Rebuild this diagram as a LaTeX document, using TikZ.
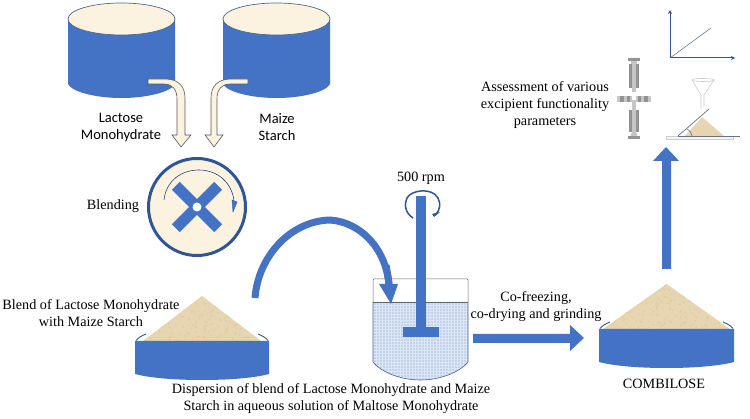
\documentclass[tikz,border=0pt]{standalone}
\usepackage{fontspec}
\setmainfont{Liberation Serif}
\newfontfamily\calibrish{Carlito}
\usetikzlibrary{arrows.meta}
\definecolor{bluefill}{HTML}{4472C4}
\definecolor{darkblue}{HTML}{2F5597}
\definecolor{cream}{HTML}{FBF3E0}
\definecolor{pile}{HTML}{E6D5B0}
\definecolor{piledot}{HTML}{DDCAA2}
\definecolor{water}{HTML}{DCE6F5}
\definecolor{waterdot}{HTML}{C3D3EC}
\tikzset{
  serif/.style={font=\fontsize{14.2}{17}\selectfont, align=center, inner sep=0pt, text=black},
  sans/.style={font=\calibrish\fontsize{14.5}{17}\selectfont, align=center, inner sep=0pt, text=black},
  blue/.style={fill=bluefill, draw=none},
  bentarrow/.style={fill=cream, draw=gray!70!black, line width=0.6pt, line join=miter},
  grey1/.style={fill=gray!85},
  grey2/.style={fill=gray!45},
}
\newcommand{\tub}[1]{%
  \begin{scope}[shift={(#1,0)}]
    \path[blue] (0,19) -- (0,84) .. controls (4,92) and (28,98) .. (53.5,98)
      .. controls (79,98) and (103,92) .. (107,84) -- (107,19) -- cycle;
    \draw[fill=cream, draw=darkblue!60!gray, line width=0.7pt] (53.5,19) ellipse [x radius=53.5, y radius=16];
  \end{scope}}
\newcommand{\heap}[7]{% xl xr ybody ybodyside ybottom apexy inset
  \draw[darkblue, line width=0.9pt] (#1+1,#3-0.5) .. controls (#1+3,#3-3) and (#1+6,#3-5) .. (#1+11,#3-7);
  \draw[darkblue, line width=0.9pt] (#2-1,#3-0.5) .. controls (#2-3,#3-3) and (#2-6,#3-5) .. (#2-11,#3-7);
  \fill[pile] (#1+#7,#3) -- ({(#1+#2)/2},#6) -- (#2-#7,#3) -- cycle;
  \begin{scope}
    \clip (#1+#7,#3) -- ({(#1+#2)/2},#6) -- (#2-#7,#3) -- cycle;
    \pgfmathsetseed{#1}
    \foreach \i in {1,...,260}{
      \pgfmathsetmacro{\px}{#1+rnd*(#2-#1)}
      \pgfmathsetmacro{\py}{#6+rnd*(#3-#6)}
      \fill[piledot] (\px,\py) circle [radius=0.8];
    }
  \end{scope}
  \path[blue] (#1,#3) -- (#1,#4) .. controls (#1+15,#5-2) and (#1+40,#5) .. ({(#1+#2)/2},#5)
     .. controls (#2-40,#5) and (#2-15,#5-2) .. (#2,#4) -- (#2,#3) -- cycle;
}
\begin{document}
\begin{tikzpicture}[x=1pt,y=-1pt]
\useasboundingbox (0,0) rectangle (750,419);
\fill[white] (0,0) rectangle (750,419);

% source tubs
\tub{68}
\tub{223}

% bent arrows
\path[bentarrow] (148,79) -- (165,79) .. controls (178,79) and (185,86) .. (185,98) -- (185,135)
  -- (191,135) -- (181,147) -- (172,135) -- (177,135) -- (177,99)
  .. controls (177,89) and (172,84) .. (164,84) -- (148,84) -- cycle;
\path[bentarrow] (248,79) -- (231,79) .. controls (218,79) and (211,86) .. (211,98) -- (211,135)
  -- (205,135) -- (214,147) -- (223,135) -- (217,135) -- (217,99)
  .. controls (217,89) and (222,84) .. (230,84) -- (248,84) -- cycle;

% blender
\draw[fill=cream, draw=darkblue, line width=3pt] (197,207) circle [radius=48.5];
\begin{scope}[shift={(197,207)}]
  \fill[bluefill, rotate=45] (-30,-5.5) rectangle (30,5.5);
  \fill[bluefill, rotate=-45] (-30,-5.5) rectangle (30,5.5);
  \fill[white] (0,0) circle [radius=4.5];
\end{scope}
\draw[darkblue!80!black, line width=0.6pt] (164,200) .. controls (166,181) and (181,170) .. (199,170)
  .. controls (218,170) and (232,183) .. (234,201);
\path[fill=bluefill, draw=darkblue, line width=0.4pt] (232,200) -- (237,202) -- (233,212) -- cycle;

% heaps
\heap{135}{269}{341}{374}{380}{296}{8}
\heap{599}{734}{329}{362}{368}{284}{4}

% big curved arrow
\draw[bluefill, line width=7pt] (255,298) .. controls (258,257) and (290,221) .. (330,220)
  .. controls (360,222) and (386,248) .. (389,285);

% beaker
\path[fill=water] (373,302) -- (373,362) .. controls (382,373) and (402,380) .. (420.5,380)
  .. controls (439,380) and (459,373) .. (468,362) -- (468,302) -- cycle;
\begin{scope}
  \clip (373,302) -- (373,362) .. controls (382,373) and (402,380) .. (420.5,380)
  .. controls (439,380) and (459,373) .. (468,362) -- (468,302) -- cycle;
  \foreach \a in {0,...,31}{
    \foreach \b in {0,...,26}{
      \fill[waterdot] (374+3*\a,303.5+3*\b) rectangle ++(1.5,1.5);
    }
  }
\end{scope}
\draw[gray!80!black, line width=0.5pt, rounded corners=1pt] (373,302) -- (373,279) -- (468,279) -- (468,302);
\draw[gray!80!black, line width=0.5pt] (373,302) -- (468,302);
\draw[darkblue!70!gray, line width=0.6pt] (373,302) -- (373,362) .. controls (382,373) and (402,380) .. (420.5,380)
  .. controls (439,380) and (459,373) .. (468,362) -- (468,302);

% redraw arrow end over beaker
\draw[bluefill, line width=7pt] (386,265) .. controls (387,272) and (388.6,278) .. (389,285);
\path[blue] (379,284) -- (398,284) -- (391,304) -- cycle;

% stirrer
\path[blue] (416,196) rectangle (426,327);
\path[blue] (403,327) rectangle (439,337);
\draw[darkblue, line width=1.5pt] (413,218) .. controls (405,213) and (404,204) .. (407,198)
  .. controls (411,190) and (432,187) .. (438,198) .. controls (441,204) and (440,210) .. (436,214);
\path[fill=darkblue] (432,214) -- (440,212) -- (434,217) -- cycle;

% right arrow
\path[blue] (473,334) -- (570,334) -- (570,325) -- (584,338) -- (570,351) -- (570,343) -- (473,343) -- cycle;

% up arrow
\path[blue] (662,269) -- (662,161) -- (653,161) -- (666,147) -- (679,161) -- (671,161) -- (671,269) -- cycle;

% graph
\coordinate (orig) at (670,58);
\coordinate (ytop) at (670,10);
\coordinate (xend) at (735,58);
\coordinate (lineend) at (711,28);
\draw[darkblue, line width=1pt, -{Stealth[length=4pt,width=4pt]}] (orig) -- (ytop);
\draw[darkblue, line width=1pt, -{Stealth[length=4pt,width=4pt]}] (orig) -- (xend);
\draw[darkblue!55!gray, line width=0.5pt] (orig) -- (lineend);

% punch press
\fill[grey1] (628,58) rectangle (640,61);
\fill[grey2] (631,61) rectangle (637,64);
\fill[grey1] (629,64) rectangle (639,88);
\fill[grey2] (632,64) rectangle (636,92);
\fill[grey2] (617,96) rectangle (651,102);
\fill[grey1] (620,96) rectangle (624,102);
\fill[grey1] (627,96) rectangle (630,102);
\fill[grey1] (638,96) rectangle (641,102);
\fill[grey1] (644,96) rectangle (648,102);
\fill[white] (632,96) rectangle (636,102);
\fill[grey2] (632,100) rectangle (636,136);
\fill[grey1] (629,110) rectangle (639,132);
\fill[grey2] (632,110) rectangle (636,134);
\fill[grey1] (628,136) rectangle (640,139);
\fill[grey2] (631,133) rectangle (637,136);

% funnel and angle of repose
\draw[gray!40, line width=0.6pt] (692,80) .. controls (692,82) and (714,82) .. (714,80)
  .. controls (714,78) and (692,78) .. (692,80);
\draw[gray!40, line width=0.6pt] (692,80) -- (701,95) -- (701,109);
\draw[gray!40, line width=0.6pt] (714,80) -- (704,95) -- (704,107);
\fill[pile] (685,136) -- (702,117) -- (724,136) -- cycle;
\draw[gray!40, fill=gray!8, line width=0.5pt] (666,136) rectangle (733,139);
\draw[gray!70!darkblue, line width=0.7pt] (678,136) -- (709,109);
\draw[gray!70!darkblue, line width=0.7pt] (678,136) -- (740,136);
\draw[darkblue, line width=0.5pt] (692,136) .. controls (692,133) and (690,131) .. (687,129);

% labels
\node[sans] (lact) at (121,127.5) {Lactose\\Monohydrate};
\node[sans] (maize) at (277,127.5) {Maize\\Starch};
\node[serif] (blending) at (113,206) {Blending};
\node[serif] (blend) at (91,313) {Blend of Lactose Monohydrate\\with Maize Starch};
\node[serif] (disp) at (331,398.5) {Dispersion of blend of Lactose Monohydrate and Maize\\Starch in aqueous solution of Maltose Monohydrate};
\node[serif] (rpm) at (421,178) {500 rpm};
\node[serif] (cofreeze) at (536,307) {Co-freezing,\\co-drying and grinding};
\node[serif] (comb) at (664,384) {COMBILOSE};
\node[serif] (assess) at (545,105) {Assessment of various\\excipient functionality\\parameters};
\end{tikzpicture}
\end{document}
